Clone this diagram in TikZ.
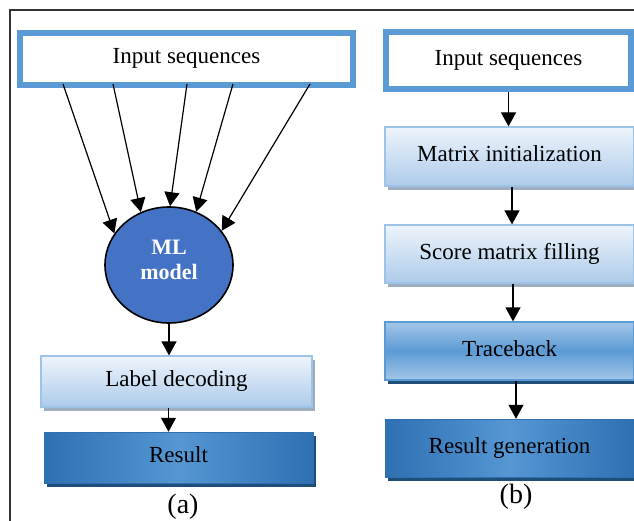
\documentclass[tikz,border=0pt]{standalone}
\usepackage{fontspec}
\setmainfont{Liberation Serif}
\usetikzlibrary{arrows.meta,shadows,shapes.geometric}
\definecolor{bluebord}{HTML}{5B9BD5}
\definecolor{ellfill}{HTML}{4472C4}
\definecolor{lighttop}{HTML}{EEF4FB}
\definecolor{lightbot}{HTML}{ADCBEA}
\definecolor{lightbord}{HTML}{9DC3E6}
\definecolor{midblue}{HTML}{5B9BD5}
\definecolor{midlight}{HTML}{A4C6E8}
\definecolor{darkblue}{HTML}{2E70B2}
\definecolor{darkmid}{HTML}{5596D3}
\definecolor{shadowgray}{HTML}{9FAEC0}
\definecolor{shadowdark}{HTML}{1F4E79}
\definecolor{framegray}{HTML}{333333}
\begin{document}
\begin{tikzpicture}[x=1pt,y=-1pt,
  txt/.style={font=\fontsize{23}{26}\selectfont, text=black, text height=15pt, text depth=5pt},
  inbox/.style={txt, draw=bluebord, line width=6pt, fill=white, inner sep=0pt},
  lightbox/.style={txt, draw=lightbord, line width=1.2pt, top color=lighttop, bottom color=lightbot, inner sep=0pt,
     drop shadow={shadow xshift=3pt, shadow yshift=-4pt, fill=shadowgray, opacity=1}},
  midbox/.style={txt, draw=midblue, line width=1.2pt, top color=midlight, bottom color=midlight, middle color=midblue, inner sep=0pt,
     drop shadow={shadow xshift=3pt, shadow yshift=-4pt, fill=shadowdark, opacity=1}},
  darkbox/.style={txt, draw=darkblue, line width=0.5pt, left color=darkblue, right color=darkblue, middle color=darkmid, inner sep=0pt,
     drop shadow={shadow xshift=3pt, shadow yshift=-4pt, fill=shadowdark, opacity=1}},
  arr/.style={draw=black, line width=1.2pt, -{Triangle[length=14pt,width=15pt]}},
  captxt/.style={font=\fontsize{28}{30}\selectfont}
]
\useasboundingbox (0,0) rectangle (634,521);
% frame
\draw[framegray, line width=1.4pt] (10,521) -- (10,10) -- (634,10);

% ---- (a) ----
\node[inbox, minimum width=333pt, minimum height=52pt] (inA) at (186.5,59) {Input sequences};
\node[ellipse, draw=black, line width=1.6pt, fill=ellfill, minimum width=128pt, minimum height=116pt, inner sep=0pt,
      align=center, text=white, text depth=10pt, font=\bfseries\fontsize{22}{25}\selectfont] (ml) at (169,265) {ML\\model};
\node[lightbox, minimum width=271pt, minimum height=51pt] (lab) at (176.5,381.5) {Label decoding};
\node[darkbox, minimum width=269pt, minimum height=51pt] (res) at (178.5,457.5) {Result};
\node[captxt] (capa) at (183,507) {(a)};

\coordinate (a1) at (63,84);
\coordinate (a2) at (113,84);
\coordinate (a3) at (187,84);
\coordinate (a4) at (233,84);
\coordinate (a5) at (310,84);
\draw[arr] (a1) -- (ml.150);
\draw[arr] (a2) -- (ml.118);
\draw[arr] (a3) -- (ml.89);
\draw[arr] (a4) -- (ml.63);
\draw[arr] (a5) -- (ml.33);
\draw[arr] (ml.south) -- (ml.south |- lab.north);
\draw[arr] ([xshift=-8pt]lab.south) -- ([xshift=-8pt]lab.south |- res.north);

% ---- (b) ----
\node[inbox, minimum width=245pt, minimum height=57pt] (inB) at (508.5,60.5) {Input sequences};
\node[lightbox, minimum width=249pt, minimum height=59pt] (mi) at (509.5,156.5) {Matrix initialization};
\node[lightbox, minimum width=249pt, minimum height=58pt] (sm) at (509.5,254) {Score matrix filling};
\node[midbox, minimum width=249pt, minimum height=58pt] (tb) at (509.5,351) {Traceback};
\node[darkbox, minimum width=249pt, minimum height=58pt] (rg) at (509.5,448) {Result generation};
\node[captxt] (capb) at (516,497) {(b)};

\draw[arr] (inB.south) -- (inB.south |- mi.north);
\draw[arr] ([xshift=2.5pt]mi.south) -- ([xshift=2.5pt]mi.south |- sm.north);
\draw[arr] ([xshift=3.5pt]sm.south) -- ([xshift=3.5pt]sm.south |- tb.north);
\draw[arr] ([xshift=6.5pt]tb.south) -- ([xshift=6.5pt]tb.south |- rg.north);
\end{tikzpicture}
\end{document}
